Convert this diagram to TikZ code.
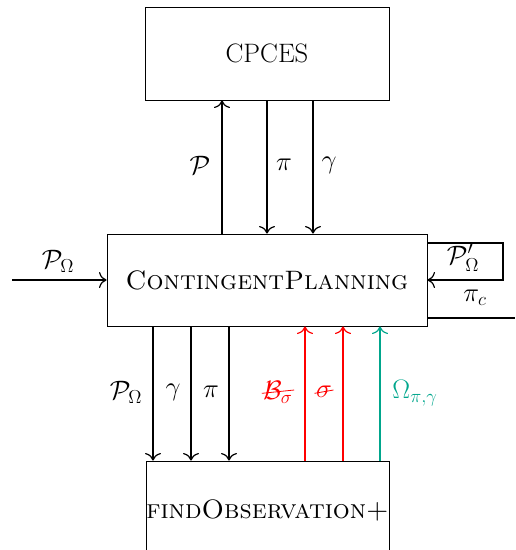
\RequirePackage{fix-cm}
\documentclass[tikz,border=0pt]{standalone}
\usepackage{amsmath}
\usepackage{fontspec}
\usetikzlibrary{arrows.meta}
\definecolor{tealc}{RGB}{0,166,140}
\begin{document}
\begin{tikzpicture}[x=0.75pt,y=-0.75pt,
  box/.style={draw, line width=0.6pt, inner sep=0pt, font=\fontsize{20}{24}\selectfont},
  arr/.style={-{To[scale=1.6]}, line width=0.9pt},
  ln/.style={line width=0.9pt},
  lbl/.style={font=\fontsize{20}{24}\selectfont, inner sep=1pt}]
\useasboundingbox (0,0) rectangle (515,550);
\node[box, minimum width=183pt, minimum height=69.75pt] (top) at (267,53.5) {CPCES};
\node[box, minimum width=240pt, minimum height=69pt] (mid) at (267,280) {\textsc{ContingentPlanning}};
\node[box, minimum width=182.25pt, minimum height=74.25pt] (bot) at (267.5,510.5) {\textsc{findObservation+}};
% x positions
\coordinate (xa) at (222,0);
\coordinate (xb) at (267,0);
\coordinate (xc) at (313,0);
\coordinate (xd) at (153,0);
\coordinate (xe) at (191,0);
\coordinate (xf) at (229,0);
\coordinate (xg) at (305,0);
\coordinate (xh) at (343,0);
\coordinate (xi) at (380,0);
% top connections
\draw[arr] (mid.north -| xa) -- (top.south -| xa);
\draw[arr] (top.south -| xb) -- (mid.north -| xb);
\draw[arr] (top.south -| xc) -- (mid.north -| xc);
\node[lbl] (lP) at (200,165) {$\mathcal{P}$};
\node[lbl] (lpi) at (284,165) {$\pi$};
\node[lbl] (lga) at (329,165) {$\gamma$};
% left input
\coordinate (inL) at (12,280);
\draw[arr] (inL) -- (mid.west);
\node[lbl] (lPO) at (58,261) {$\mathcal{P}_\Omega$};
% right loop
\coordinate (r1) at (503,243);
\coordinate (r2) at (503,280);
\coordinate (ry) at (0,243);
\draw[arr] (mid.east |- ry) -- (r1) -- (r2) -- (mid.east |- r2);
\node[lbl] (lPOp) at (463,258) {$\mathcal{P}'_\Omega$};
\coordinate (pc) at (515,318);
\draw[ln] (mid.east |- pc) -- (pc);
\node[lbl] (lpc) at (475,298) {$\pi_c$};
% bottom connections
\draw[arr] (mid.south -| xd) -- (bot.north -| xd);
\draw[arr] (mid.south -| xe) -- (bot.north -| xe);
\draw[arr] (mid.south -| xf) -- (bot.north -| xf);
\node[lbl] (lPO2) at (126,392) {$\mathcal{P}_\Omega$};
\node[lbl] (lga2) at (173,392) {$\gamma$};
\node[lbl] (lpi2) at (211,392) {$\pi$};
\draw[arr, red] (bot.north -| xg) -- (mid.south -| xg);
\draw[arr, red] (bot.north -| xh) -- (mid.south -| xh);
\draw[arr, tealc] (bot.north -| xi) -- (mid.south -| xi);
\node[lbl, text=red] (lB) at (278,392) {$\mathcal{B}_\sigma$};
\node[lbl, text=red] (lsig) at (324,392) {$\sigma$};
\draw[red, line width=0.6pt] ([yshift=-1pt]lB.west) -- ([yshift=1.5pt]lB.east);
\draw[red, line width=0.6pt] ([yshift=-1pt]lsig.west) -- ([yshift=1.5pt]lsig.east);
\node[lbl, text=tealc] (lO) at (415,393) {$\Omega_{\pi,\gamma}$};
\end{tikzpicture}
\end{document}
